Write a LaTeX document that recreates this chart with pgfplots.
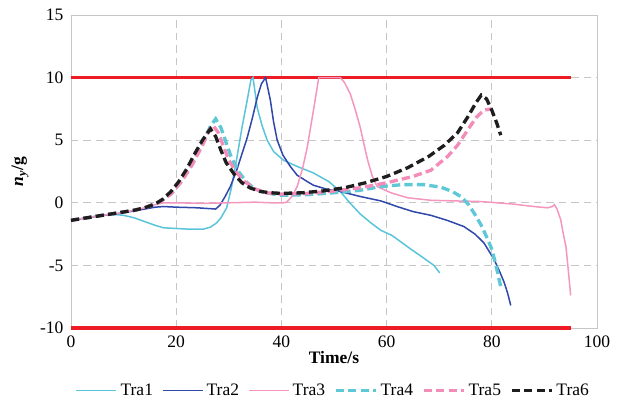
\documentclass[border=0pt]{standalone}
\usepackage{fontspec}
\setmainfont{Liberation Serif}
\usepackage{pgfplots}
\pgfplotsset{compat=1.18}

\definecolor{traA}{RGB}{91,196,218}
\definecolor{traB}{RGB}{48,72,170}
\definecolor{traC}{RGB}{244,150,190}
\definecolor{traD}{RGB}{95,200,215}
\definecolor{traE}{RGB}{244,140,185}
\definecolor{traF}{RGB}{30,30,30}
\definecolor{limred}{RGB}{237,28,36}

\begin{document}
\begin{tikzpicture}
\begin{axis}[
    scale only axis,
    width=315.6pt, height=187.8pt,
    xmin=0, xmax=100, ymin=-10, ymax=15,
    xtick={0,20,...,100}, ytick={-10,-5,...,15},
    clip=false,
    axis line style={gray!45},
    major tick length=0pt,
    grid=major,
    grid style={gray!45, dash pattern=on 4.5pt off 3pt, line width=0.5pt},
    tick label style={font=\fontsize{10.5}{12}\selectfont},
    /pgf/number format/assume math mode=true,
    xticklabel style={yshift=-1pt},
    yticklabel style={xshift=-1pt},
    xlabel={\textbf{Time/s}},
    xlabel style={at={(axis description cs:0.5,-0.093)}, anchor=center,
        font=\fontsize{10.5}{12}\selectfont},
    ylabel={\textbf{\textit{n}\textsubscript{\textit{y}}/g}},
    ylabel style={at={(axis description cs:-0.097,0.5)}, anchor=center,
        font=\fontsize{10.5}{12}\selectfont},
    legend columns=6,
    legend style={draw=none, fill=none, at={(0.5,-0.2)}, anchor=center,
        font=\fontsize{10.5}{12}\selectfont,
        /tikz/every even column/.append style={column sep=3.3pt}},
    legend image code/.code={\draw[#1] (0pt,0pt) -- (24pt,0pt);},
]
% limits
\addplot[limred, line width=1.9pt, forget plot] coordinates {(0,10) (95,10)};
\addplot[limred, line width=1.9pt, forget plot] coordinates {(0,-10) (95,-10)};

% Tra1
\addplot[traA, line width=0.9pt] coordinates {
(0,-1.4) (3,-1.2) (6,-1.0) (8.7,-0.95) (10,-1.0) (12,-1.2) (14,-1.5) (16,-1.8)
(17.6,-2.0) (20,-2.05) (22,-2.1) (25.2,-2.1) (26.5,-1.95) (27.7,-1.6) (28.5,-1.2)
(29.6,-0.4) (30.5,1.2) (31.5,3.5) (32.5,6.0) (33.5,8.2) (34.2,9.8) (34.6,10)
(35.4,7.6) (36.3,6.2) (37.3,5.0) (38.5,4.1) (40.4,3.4) (43,2.9) (46,2.4) (49,1.7)
(51.2,0.9) (53,0.0) (55,-0.9) (57,-1.6) (58.9,-2.2) (61,-2.6) (64.6,-3.7)
(67,-4.4) (69,-5.0) (70.1,-5.6)};
\addlegendentry{Tra1}

% Tra2
\addplot[traB, line width=0.9pt] coordinates {
(0,-1.4) (3,-1.2) (6,-1.0) (9,-0.85) (12,-0.65) (14,-0.5) (16,-0.35) (17.6,-0.3)
(20,-0.35) (24,-0.4) (27.5,-0.5) (28.3,-0.2) (29.3,0.5) (30.3,1.3) (31.5,2.6)
(32.5,3.9) (33.5,5.2) (34.5,6.8) (35.4,8.4) (36.2,9.5) (37,10) (37.9,8.2)
(38.5,6.5) (39.2,5.0) (40.3,3.8) (41.7,2.9) (43,2.2) (44.9,1.7) (46.1,1.4)
(48.5,1.1) (51.2,0.9) (55,0.5) (58.9,0.15) (62,-0.3) (65,-0.7) (68.4,-1.0)
(71.5,-1.4) (74.7,-1.9) (76.8,-2.5) (78.5,-3.2) (80.4,-4.5) (81.5,-5.5)
(82.3,-6.3) (83,-7.2) (83.6,-8.2)};
\addlegendentry{Tra2}

% Tra3
\addplot[traC, line width=0.9pt] coordinates {
(0,-1.4) (3,-1.2) (6,-1.0) (9,-0.85) (12,-0.6) (14,-0.4) (16,-0.15) (17.6,0.0)
(20,0.0) (25,-0.05) (30,0.0) (35,0.05) (38,0.0) (40.4,0.0) (41,0.05) (42,0.5)
(43,1.3) (44,2.7) (44.9,4.4) (46.1,7.4) (47.1,10) (51.2,10) (52,9.6) (53.1,8.7)
(54,7.5) (55,6.0) (55.8,4.5) (56.4,3.4) (57.3,2.1) (58.2,1.3) (60.8,0.8)
(64,0.4) (68.4,0.2) (73,0.15) (77.9,0.1) (84,-0.1) (88,-0.3) (90.6,-0.4)
(91.5,-0.3) (91.9,-0.15) (92.4,-0.5) (93.1,-1.35) (93.6,-2.5) (94.1,-3.5)
(94.5,-5.2) (95,-7.4)};
\addlegendentry{Tra3}

% Tra4
\addplot[traD, line width=2pt, dash pattern=on 5pt off 2.5pt] coordinates {
(0,-1.4) (3,-1.2) (6,-1.0) (9,-0.8) (12,-0.6) (14,-0.4) (17,0.1) (19,0.7)
(21,1.7) (23,3.1) (25,4.8) (26.5,6.1) (27.5,6.7) (28.5,6.0) (29.5,4.8)
(30.5,3.6) (32,2.4) (33.5,1.6) (35,1.1) (37,0.8) (40,0.6) (45,0.65) (50,0.8)
(55,1.0) (59,1.3) (63,1.45) (67,1.45) (70.3,1.25) (72.5,0.9) (74.1,0.5)
(75.5,-0.1) (76.6,-0.8) (78,-1.8) (79.2,-2.9) (80,-3.7) (80.8,-5.0) (81.7,-6.7)};
\addlegendentry{Tra4}

% Tra5
\addplot[traE, line width=2pt, dash pattern=on 5pt off 2.5pt] coordinates {
(0,-1.4) (3,-1.2) (6,-1.0) (9,-0.8) (12,-0.6) (14,-0.4) (17,0.1) (19,0.7)
(21,1.7) (23,3.0) (25,4.6) (26.3,5.8) (27,6.2) (28,5.6) (29,4.5) (30,3.4)
(31.5,2.4) (33,1.7) (35,1.1) (37,0.8) (40,0.7) (45,0.75) (50,0.95) (55,1.2)
(60,1.6) (65,2.1) (68.4,2.6) (71.6,3.7) (73.5,4.6) (75.4,5.8) (77,6.8)
(78.5,7.4) (80,7.5)};
\addlegendentry{Tra5}

% Tra6
\addplot[traF, line width=2pt, dash pattern=on 5pt off 2.5pt] coordinates {
(0,-1.4) (3,-1.2) (6,-1.0) (9,-0.8) (12,-0.6) (14,-0.4) (16,-0.1) (17.5,0.3)
(19,0.9) (20.5,1.7) (22,2.7) (23.5,3.9) (25,5.0) (26.5,5.9) (27.5,5.3)
(28.5,4.2) (29.5,3.2) (31,2.3) (32.5,1.6) (34,1.2) (36,0.9) (38,0.8) (40,0.75)
(44,0.8) (48,0.95) (52,1.2) (56,1.6) (60,2.1) (64,2.8) (68,3.7) (71,4.6)
(73.5,5.6) (75.5,6.9) (77,8.0) (78,8.6) (79,8.3) (80,7.4) (81,6.3) (81.7,5.4)};
\addlegendentry{Tra6}
\end{axis}
\pgfresetboundingbox
\path ([shift={(-42.6pt,-45pt)}]current axis.south west) rectangle ([shift={(12pt,9pt)}]current axis.north east);
\end{tikzpicture}
\end{document}
